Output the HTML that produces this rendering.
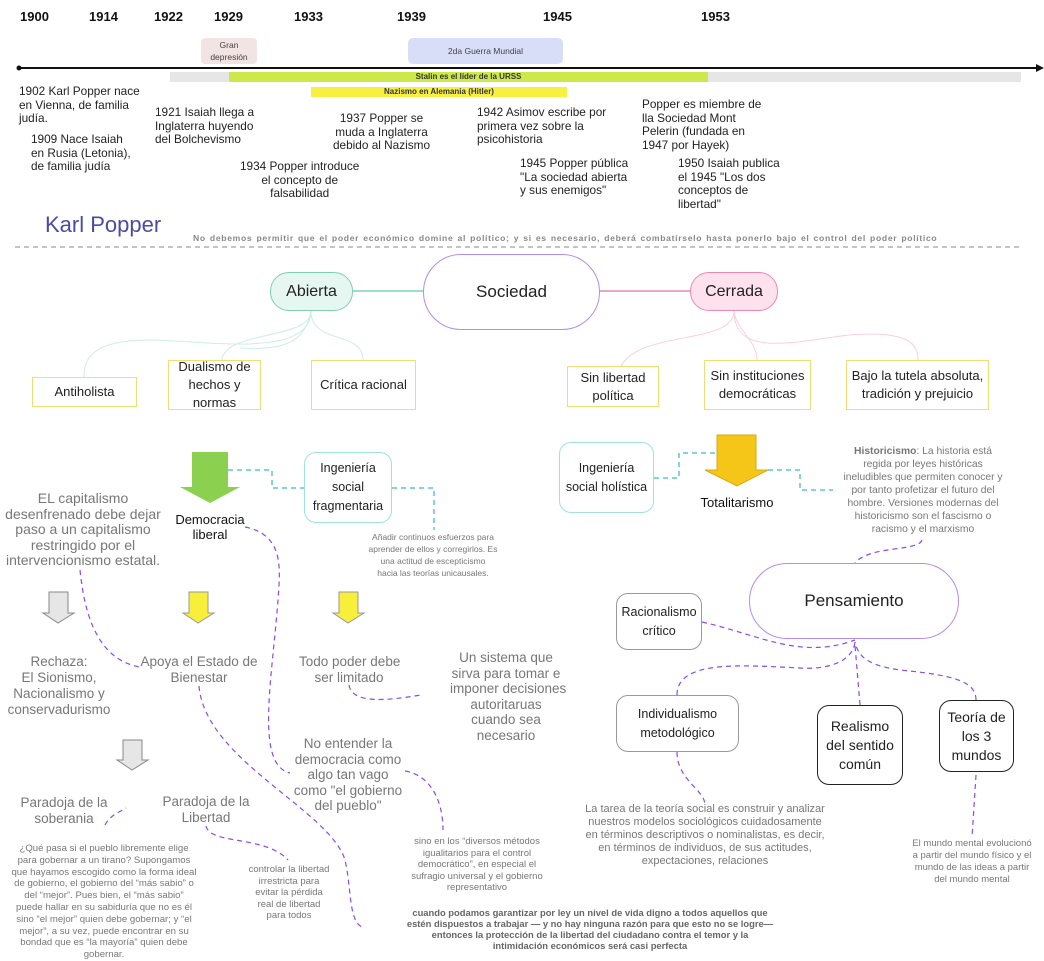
<!DOCTYPE html>
<html><head><meta charset="utf-8"><style>
body{margin:0;width:1044px;height:957px;background:#fff;position:relative;overflow:hidden;font-family:"Liberation Sans",sans-serif;}
.a{position:absolute;}
.t{position:absolute;text-align:center;white-space:nowrap;}
.yr{position:absolute;top:9px;font-weight:bold;font-size:13px;color:#111;}
.ev{position:absolute;font-size:11.8px;line-height:13.5px;color:#222;white-space:nowrap;}
.yb{position:absolute;border:1.5px solid #f3dc74;background:#fff;display:flex;align-items:center;justify-content:center;text-align:center;font-size:13px;line-height:18px;color:#222;box-sizing:border-box;}
.gb{position:absolute;border:1px solid #999;border-radius:12px;background:#fff;display:flex;align-items:center;justify-content:center;text-align:center;font-size:12.5px;line-height:19px;color:#222;box-sizing:border-box;}
.gray{color:#777;font-size:13.5px;line-height:18px;}
.small{color:#777;font-size:9px;line-height:12px;}
</style></head><body>
<svg class="a" style="left:0;top:0" width="1044" height="957">
<line x1="18" y1="68" x2="1040" y2="68" stroke="#111" stroke-width="2"/>
<polygon points="1044,68 1036,64 1036,72" fill="#111"/><circle cx="19" cy="68" r="2.5" fill="#111"/>
<line x1="15" y1="247" x2="1022" y2="247" stroke="#888" stroke-dasharray="5 4"/>
<line x1="353" y1="291" x2="423" y2="291" stroke="#7fd0c0" stroke-width="1.5"/>
<line x1="600" y1="291" x2="690" y2="291" stroke="#e48ab8" stroke-width="1.5"/>
<g fill="none" stroke="#cdeee4" stroke-width="1">
<path d="M311,311 C311,360 200,340 150,340 C90,340 84,360 84,377"/>
<path d="M311,311 C311,340 225,330 222,360"/>
<path d="M311,311 C311,345 363,330 363,360"/>
<path d="M311,311 C305,345 280,350 240,348"/></g>
<g fill="none" stroke="#f9cfe0" stroke-width="1">
<path d="M734,311 C734,345 640,330 621,366"/>
<path d="M734,311 C736,330 757,340 757,360"/>
<path d="M734,311 C734,360 800,340 850,335 C910,330 918,345 918,360"/></g>
<g fill="none" stroke="#5cc8d0" stroke-width="1.5" stroke-dasharray="5 4">
<path d="M228,470 H272 V488 H304"/><path d="M392,488 H434 V530"/>
<path d="M654,478 H679 V453 H717"/><path d="M768,470 H800 V490 H833"/></g>
<g fill="none" stroke="#8a4be8" stroke-width="1.2" stroke-dasharray="5 4">
<path d="M80,570 C85,620 100,660 140,667"/>
<path d="M245,527 C285,535 280,570 278,600 C272,680 255,765 290,773"/>
<path d="M199,686 C205,760 330,810 345,860 C352,890 348,925 365,928"/>
<path d="M405,771 C430,775 443,800 443,830"/>
<path d="M105,825 C110,815 120,812 126,808"/>
<path d="M206,826 C210,845 265,835 288,860"/>
<path d="M349,685 C352,705 390,700 421,695"/>
<path d="M922,540 C918,552 870,545 855,563"/>
<path d="M702,622 C760,635 800,660 855,640"/>
<path d="M677,695 C677,660 740,665 800,668 C830,670 855,660 855,640"/>
<path d="M860,705 L855,645"/>
<path d="M976,700 C976,680 950,675 900,670 C865,665 858,655 855,642"/>
<path d="M677,752 C677,780 705,790 705,805"/>
<path d="M976,775 L972,838"/></g>
<polygon points="192,452 228,452 228,487 240,487 210,503 180,487 192,487" fill="#8bd14f"/>
<polygon points="717,435 756,435 756,470 768,470 737,486 705,470 717,470" fill="#f5c518" stroke="#d9ab10"/>
<polygon points="49,592 68,592 68,613 74,613 58,623 43,613 49,613" fill="#e6e6e6" stroke="#888"/>
<polygon points="189,592 208,592 208,613 214,613 198,623 183,613 189,613" fill="#f8ef3a" stroke="#999"/>
<polygon points="339,592 358,592 358,613 364,613 348,623 333,613 339,613" fill="#f8ef3a" stroke="#999"/>
<polygon points="123,740 142,740 142,760 148,760 132,770 117,760 123,760" fill="#e6e6e6" stroke="#888"/>
</svg>

<div class="yr" style="left:20px">1900</div><div class="yr" style="left:89px">1914</div><div class="yr" style="left:154px">1922</div><div class="yr" style="left:214px">1929</div><div class="yr" style="left:294px">1933</div><div class="yr" style="left:397px">1939</div><div class="yr" style="left:543px">1945</div><div class="yr" style="left:701px">1953</div>
<div class="a t" style="left:201px;top:38px;width:56px;height:26px;background:#f1e4e2;border-radius:4px;font-size:8.5px;line-height:12px;color:#444;padding-top:1px;box-sizing:border-box">Gran<br>depresión</div>
<div class="a t" style="left:408px;top:38px;width:155px;height:26px;background:#d9def8;border-radius:5px;font-size:8.5px;line-height:26px;color:#444">2da Guerra Mundial</div>
<div class="a" style="left:170px;top:72px;width:851px;height:10px;background:#e6e6e6"></div>
<div class="a t" style="left:229px;top:72px;width:479px;height:10px;background:#cde84a;font-size:8px;font-weight:bold;line-height:10px;color:#333">Stalin es el líder de la URSS</div>
<div class="a t" style="left:311px;top:87px;width:256px;height:10px;background:#f8f040;font-size:8px;font-weight:bold;line-height:10px;color:#333">Nazismo en Alemania (Hitler)</div>

<div class="ev" style="left:19px;top:85px">1902 Karl Popper nace<br>en Vienna, de familia<br>judía.</div>
<div class="ev" style="left:31px;top:133px">1909 Nace Isaiah<br>en Rusia (Letonia),<br>de familia judía</div>
<div class="ev" style="left:155px;top:106px">1921 Isaiah llega a<br>Inglaterra huyendo<br>del Bolchevismo</div>
<div class="ev" style="left:240px;top:160px;text-align:center">1934 Popper introduce<br>el concepto de<br>falsabilidad</div>
<div class="ev" style="left:333px;top:112px;text-align:center">1937 Popper se<br>muda a Inglaterra<br>debido al Nazismo</div>
<div class="ev" style="left:477px;top:106px">1942 Asimov escribe por<br>primera vez sobre la<br>psicohistoria</div>
<div class="ev" style="left:520px;top:157px">1945 Popper pública<br>"La sociedad abierta<br>y sus enemigos"</div>
<div class="ev" style="left:642px;top:98px">Popper es miembre de<br>lla Sociedad Mont<br>Pelerin (fundada en<br>1947 por Hayek)</div>
<div class="ev" style="left:678px;top:157px">1950 Isaiah publica<br>el 1945 "Los dos<br>conceptos de<br>libertad"</div>

<div class="a" style="left:45px;top:212px;font-size:22px;color:#4b4ba6">Karl Popper</div>
<div class="a" style="left:193px;top:233px;font-size:8.6px;letter-spacing:0.68px;word-spacing:1px;font-weight:bold;color:#888;white-space:nowrap">No debemos permitir que el poder económico domine al político; y si es necesario, deberá combatírselo hasta ponerlo bajo el control del poder político</div>

<div class="a t" style="left:423px;top:254px;width:177px;height:76px;border:1px solid #b58ce8;border-radius:38px;box-sizing:border-box;font-size:17px;line-height:74px;color:#222">Sociedad</div>
<div class="a t" style="left:270px;top:272px;width:83px;height:39px;border:1px solid #7fd0b0;background:#e6f7f1;border-radius:19px;box-sizing:border-box;font-size:16px;line-height:37px;color:#222">Abierta</div>
<div class="a t" style="left:690px;top:272px;width:88px;height:39px;border:1px solid #e889b3;background:#fde1ec;border-radius:19px;box-sizing:border-box;font-size:16px;line-height:37px;color:#222">Cerrada</div>

<div class="yb" style="left:32px;top:377px;width:105px;height:30px">Antiholista</div>
<div class="yb" style="left:168px;top:360px;width:93px;height:50px">Dualismo de<br>hechos y<br>normas</div>
<div class="yb" style="left:311px;top:360px;width:105px;height:50px">Crítica racional</div>
<div class="yb" style="left:567px;top:366px;width:92px;height:41px">Sin libertad<br>política</div>
<div class="yb" style="left:704px;top:360px;width:107px;height:50px">Sin instituciones<br>democráticas</div>
<div class="yb" style="left:846px;top:360px;width:143px;height:50px">Bajo la tutela absoluta,<br>tradición y prejuicio</div>

<div class="t" style="left:160px;top:512px;width:100px;font-size:13px;line-height:15px;color:#111">Democracia<br>liberal</div>
<div class="gb" style="left:304px;top:452px;width:88px;height:71px;border-color:#a0e0e8">Ingeniería<br>social<br>fragmentaria</div>
<div class="t small" style="left:363px;top:531px;width:140px;font-size:8.5px">Añadir continuos esfuerzos para<br>aprender de ellos y corregirlos. Es<br>una actitud de escepticismo<br>hacia las teorías unicausales.</div>
<div class="gb" style="left:559px;top:442px;width:95px;height:71px;border-color:#a0e0e8">Ingeniería<br>social holística</div>
<div class="t" style="left:687px;top:495px;width:100px;font-size:13px;color:#111">Totalitarismo</div>
<div class="t small" style="left:838px;top:445px;width:170px;font-size:10.3px;line-height:13px"><b>Historicismo</b>: La historia está<br>regida por leyes históricas<br>ineludibles que permiten conocer y<br>por tanto profetizar el futuro del<br>hombre. Versiones modernas del<br>historicismo son el fascismo o<br>racismo y el marxismo</div>

<div class="a t" style="left:749px;top:563px;width:210px;height:76px;border:1px solid #b58ce8;border-radius:38px;box-sizing:border-box;font-size:17px;line-height:74px;color:#222">Pensamiento</div>
<div class="gb" style="left:616px;top:593px;width:86px;height:57px">Racionalismo<br>crítico</div>
<div class="gb" style="left:616px;top:695px;width:123px;height:57px">Individualismo<br>metodológico</div>
<div class="gb" style="left:817px;top:705px;width:86px;height:80px;border-color:#222;font-size:14px">Realismo<br>del sentido<br>común</div>
<div class="gb" style="left:939px;top:700px;width:75px;height:72px;border-color:#222;font-size:14px">Teoría de<br>los 3<br>mundos</div>
<div class="t small" style="left:565px;top:803px;width:280px;font-size:11px;line-height:13px">La tarea de la teoría social es construir y analizar<br>nuestros modelos sociológicos cuidadosamente<br>en términos descriptivos o nominalistas, es decir,<br>en términos de individuos, de sus actitudes,<br>expectaciones, relaciones</div>
<div class="t small" style="left:897px;top:838px;width:150px;font-size:9.5px">El mundo mental evolucionó<br>a partir del mundo físico y el<br>mundo de las ideas a partir<br>del mundo mental</div>

<div class="t gray" style="left:0;top:491px;width:166px;font-size:14px;line-height:15.5px">EL capitalismo<br>desenfrenado debe dejar<br>paso a un capitalismo<br>restringido por el<br>intervencionismo estatal.</div>
<div class="t gray" style="left:0;top:654px;width:118px;line-height:16px">Rechaza:<br>El Sionismo,<br>Nacionalismo y<br>conservadurismo</div>
<div class="t gray" style="left:139px;top:654px;width:120px;line-height:16px">Apoya el Estado de<br>Bienestar</div>
<div class="t gray" style="left:299px;top:654px;width:100px;line-height:16px">Todo poder debe<br>ser limitado</div>
<div class="t gray" style="left:450px;top:650px;width:112px;line-height:15.5px">Un sistema que<br>sirva para tomar e<br>imponer decisiones<br>autoritaruas<br>cuando sea<br>necesario</div>
<div class="t gray" style="left:288px;top:736px;width:120px;line-height:15.5px">No entender la<br>democracia como<br>algo tan vago<br>como "el gobierno<br>del pueblo"</div>
<div class="t gray" style="left:14px;top:795px;width:100px;line-height:16px">Paradoja de la<br>soberania</div>
<div class="t gray" style="left:156px;top:794px;width:100px;line-height:16px">Paradoja de la<br>Libertad</div>
<div class="t small" style="left:4px;top:843px;width:200px;font-size:9.6px;line-height:11.8px">¿Qué pasa si el pueblo libremente elige<br>para gobernar a un tirano? Supongamos<br>que hayamos escogido como la forma ideal<br>de gobierno, el gobierno del “más sabio” o<br>del “mejor”. Pues bien, el “más sabio”<br>puede hallar en su sabiduría que no es él<br>sino “el mejor” quien debe gobernar; y “el<br>mejor”, a su vez, puede encontrar en su<br>bondad que es “la mayoría” quien debe<br>gobernar.</div>
<div class="t small" style="left:244px;top:864px;width:90px;font-size:9.5px;line-height:11.5px">controlar la libertad<br>irrestricta para<br>evitar la pérdida<br>real de libertad<br>para todos</div>
<div class="t small" style="left:397px;top:836px;width:160px;font-size:9.5px;line-height:11.5px">sino en los “diversos métodos<br>igualitarios para el control<br>democrático”, en especial el<br>sufragio universal y el gobierno<br>representativo</div>
<div class="t small" style="left:390px;top:907px;width:400px;font-size:9.4px;line-height:11px;font-weight:bold;color:#666">cuando podamos garantizar por ley un nivel de vida digno a todos aquellos que<br>estén dispuestos a trabajar — y no hay ninguna razón para que esto no se logre—<br>entonces la protección de la libertad del ciudadano contra el temor y la<br>intimidación económicos será casi perfecta</div>
</body></html>
